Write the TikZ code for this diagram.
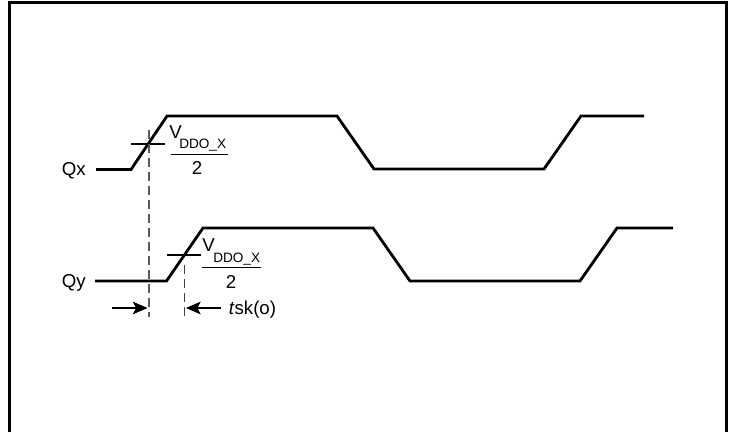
\documentclass[tikz,border=0pt]{standalone}
\usepackage{fontspec}
\setmainfont{Liberation Sans}
\usetikzlibrary{arrows.meta}
\tikzset{
  wave/.style={line width=2.1pt,line join=miter},
  tickline/.style={line width=1.2pt},
  guide/.style={line width=1.2pt,color=black!65,dash pattern=on 7pt off 3.5pt},
  guidefine/.style={line width=0.8pt,color=black!75,dash pattern=on 7pt off 3.5pt},
  frameline/.style={line width=2.2pt},
  label/.style={inner sep=0pt,font=\fontsize{14}{17}\selectfont},
  sublabel/.style={inner sep=0pt,font=\fontsize{10.2}{12}\selectfont},
  dim/.style={line width=0.9pt,-{Stealth[length=11pt,width=9.5pt,inset=2.5pt]}},
}
\begin{document}
\begin{tikzpicture}[x=0.75pt,y=-0.75pt]
\useasboundingbox (0,0) rectangle (735,432);
\fill[white] (0,0) rectangle (735,432);
\draw[frameline] (9.2,432) -- (9.2,2.1) -- (726.9,2.1) -- (726.9,432);
% labels
\node[label,anchor=base east] (qx) at (86,175) {Qx};
\node[label,anchor=base east] (qy) at (86,287) {Qy};
% waveforms
\draw[wave] (96,169.5) -- (131,169.5) -- (167,116) -- (337,116) -- (374,169) -- (544,169) -- (581,116) -- (644,116);
\draw[wave] (95,281) -- (166.5,281) -- (203,228) -- (373,228) -- (410,281) -- (580,281) -- (617,228) -- (673,228);
% threshold ticks
\draw[tickline] (131,143.7) -- (165,143.7);
\draw[tickline] (167,255) -- (201,255);
% guides
\coordinate (g1a) at (148.7,130);
\coordinate (g1b) at (148.7,317);
\coordinate (g2a) at (184.5,265);
\coordinate (g2b) at (184.5,317);
\draw[guide] (g1a) -- (g1b);
\draw[guidefine] (g2a) -- (g2b);
% threshold labels
\node[label,anchor=base west] (v1) at (169,138.5) {V};
\node[sublabel,anchor=base west] (s1) at (179,148.5) {DDO\_X};
\draw[tickline] (171,154.5) -- (228,154.5);
\node[label,anchor=base] (t1) at (197,174) {2};
\node[label,anchor=base west] (v2) at (202,251) {V};
\node[sublabel,anchor=base west] (s2) at (213,262) {DDO\_X};
\draw[tickline] (202,267.5) -- (261,267.5);
\node[label,anchor=base] (t2) at (231,288) {2};
% skew dimension
\coordinate (a1) at (112,308);
\coordinate (a2) at (147.5,308);
\coordinate (b1) at (221,308);
\coordinate (b2) at (186,308);
\draw[dim] (a1) -- (a2);
\draw[dim] (b1) -- (b2);
\node[label,anchor=base west] (tsk) at (228.5,314) {\textit{t}sk(o)};
\end{tikzpicture}
\end{document}
